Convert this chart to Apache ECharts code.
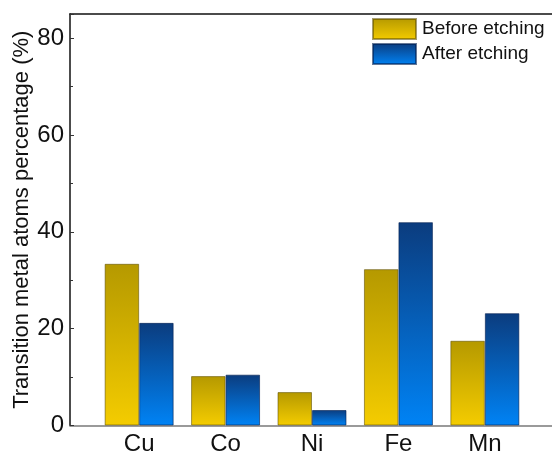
<!DOCTYPE html>
<html>
<head>
<meta charset="utf-8">
<script src="https://cdn.jsdelivr.net/npm/echarts@6/dist/echarts.min.js"></script>
<style>
  html, body { margin: 0; padding: 0; background: #fff; }
  #chart { width: 552px; height: 455px; }
</style>
</head>
<body>
<div id="chart"></div>
<script>
// Element categories and their positions along the x value axis
const categories = ['Cu', 'Co', 'Ni', 'Fe', 'Mn'];
const positions = [1, 2, 3, 4, 5];

// Transition metal atom percentages (%)
const beforeEtching = [33.4, 10.2, 6.9, 32.3, 17.5];
const afterEtching = [21.2, 10.5, 3.2, 42.0, 23.2];

const seriesNames = ['Before etching', 'After etching'];
const yTitle = 'Transition metal atoms percentage (%)';

const font = 'Liberation Sans, Arial, sans-serif';

function vGrad(top, bottom) {
  return new echarts.graphic.LinearGradient(0, 0, 0, 1, [
    { offset: 0, color: top },
    { offset: 1, color: bottom }
  ]);
}

const goldFill = vGrad('#b59900', '#f4cc00');
const blueFill = vGrad('#0b3c7e', '#0083f5');

const chart = echarts.init(document.getElementById('chart'), null, { renderer: 'canvas' });

chart.setOption({
  animation: false,
  backgroundColor: '#ffffff',
  grid: { left: 70, right: -2, top: 14, bottom: 29.5, containLabel: false, outerBoundsMode: 'none' },
  legend: {
    orient: 'vertical',
    left: 372,
    top: 18,
    icon: 'rect',
    itemWidth: 43,
    itemHeight: 20,
    itemGap: 3,
    padding: 0,
    textStyle: { fontFamily: font, fontSize: 19, color: '#111', padding: [0, 0, 0, 1] },
    data: seriesNames
  },
  xAxis: [
    {
      type: 'value',
      min: 0.2,
      max: 5.8,
      splitLine: { show: false },
      axisLine: { show: true, onZero: false, lineStyle: { color: '#7a7a7a', width: 1.5 } },
      axisTick: { show: false },
      axisLabel: {
        customValues: positions,
        formatter: v => categories[Math.round(v) - 1] || '',
        fontFamily: font,
        fontSize: 24,
        color: '#111',
        margin: 7
      }
    },
    {
      type: 'value',
      position: 'top',
      min: 0.2,
      max: 5.8,
      splitLine: { show: false },
      axisLine: { show: true, onZero: false, lineStyle: { color: '#111', width: 1.5 } },
      axisTick: { show: false },
      axisLabel: { show: false }
    }
  ],
  yAxis: {
    type: 'value',
    min: 0,
    max: 85,
    interval: 20,
    name: yTitle,
    nameLocation: 'middle',
    nameGap: 37,
    nameMoveOverlap: false,
    nameTextStyle: { fontFamily: font, fontSize: 22, color: '#111' },
    splitLine: { show: false },
    axisLine: { show: true, onZero: false, lineStyle: { color: '#111', width: 1.5 } },
    axisTick: { show: true, inside: true, length: 4, lineStyle: { color: '#333', width: 1 } },
    minorTick: { show: true, splitNumber: 2, length: 3, lineStyle: { color: '#333', width: 1 } },
    axisLabel: {
      fontFamily: font,
      fontSize: 24,
      color: '#111',
      margin: 6,
      showMaxLabel: false,
      formatter: v => (v % 20 === 0 ? String(v) : '')
    }
  },
  series: [
    {
      name: seriesNames[0],
      type: 'bar',
      barWidth: 34.5,
      barGap: '0%',
      itemStyle: { color: goldFill, borderColor: 'rgba(90,75,0,0.55)', borderWidth: 1 },
      data: positions.map((x, i) => [x, beforeEtching[i]])
    },
    {
      name: seriesNames[1],
      type: 'bar',
      barWidth: 34.5,
      barGap: '0%',
      itemStyle: { color: blueFill, borderColor: 'rgba(0,30,80,0.6)', borderWidth: 1 },
      data: positions.map((x, i) => [x, afterEtching[i]])
    }
  ]
});
</script>
</body>
</html>
